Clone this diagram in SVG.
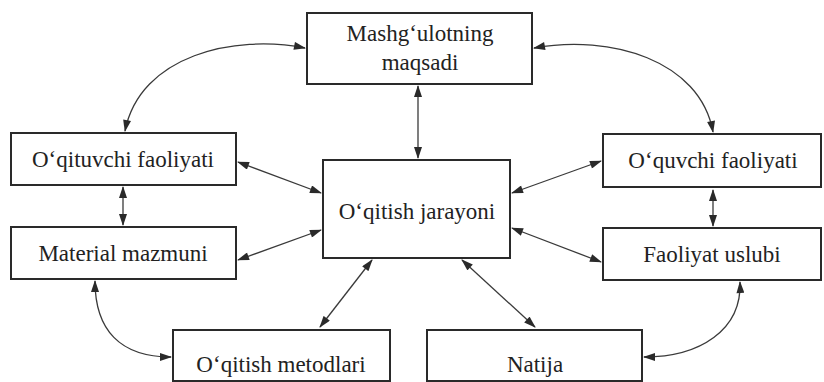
<svg xmlns="http://www.w3.org/2000/svg" width="824" height="382" viewBox="0 0 824 382">
<style>
.box{fill:#fff;stroke:#2a2a2a;stroke-width:2}
.lbl{font-family:"Liberation Serif","Times New Roman",serif;font-size:23px;fill:#222;text-anchor:middle}
.con{fill:none;stroke:#3a3a3a;stroke-width:1.3;marker-start:url(#ah);marker-end:url(#ah)}
</style>
<defs>
<marker id="ah" viewBox="0 0 12 8" refX="11" refY="4" markerWidth="13" markerHeight="8" markerUnits="userSpaceOnUse" orient="auto-start-reverse">
<path d="M0,0 L12,4 L0,8 Z" fill="#2a2a2a"/>
</marker>
</defs>
<rect width="824" height="382" fill="#fff"/>
<g id="connectors">
<path class="con" d="M418,86 L418,158"/>
<path class="con" d="M123,187 L123,225"/>
<path class="con" d="M713,190 L713,226"/>
<path class="con" d="M238,162 L321,193"/>
<path class="con" d="M238,260 L321,230"/>
<path class="con" d="M512,193 L601,161"/>
<path class="con" d="M512,228 L601,262"/>
<path class="con" d="M372,260 L320,327"/>
<path class="con" d="M462,260 L535,327"/>
<path class="con" d="M305,48 C235,34 140,55 125,131"/>
<path class="con" d="M534,48 C610,34 700,60 713,132"/>
<path class="con" d="M95,281 C95,330 120,357 171,357"/>
<path class="con" d="M740,282 C742,330 700,357 644,357"/>
</g>
<g id="n1"><rect class="box" x="307" y="13" width="225" height="71"/><text class="lbl" x="420" y="41">Mashg‘ulotning</text><text class="lbl" x="420" y="70">maqsadi</text></g>
<g id="n2"><rect class="box" x="11" y="133" width="225" height="52"/><text class="lbl" x="123" y="167">O‘qituvchi faoliyati</text></g>
<g id="n3"><rect class="box" x="603" y="134" width="218" height="53"/><text class="lbl" x="713" y="168">O‘quvchi faoliyati</text></g>
<g id="n4"><rect class="box" x="323" y="160" width="187" height="98"/><text class="lbl" x="417" y="219">O‘qitish jarayoni</text></g>
<g id="n5"><rect class="box" x="11" y="227" width="225" height="52"/><text class="lbl" x="123" y="261">Material  mazmuni</text></g>
<g id="n6"><rect class="box" x="603" y="228" width="218" height="52"/><text class="lbl" x="712" y="262">Faoliyat uslubi</text></g>
<g id="n7"><rect class="box" x="173" y="330" width="217" height="51"/><text class="lbl" x="281" y="372">O‘qitish metodlari</text></g>
<g id="n8"><rect class="box" x="427" y="330" width="215" height="51"/><text class="lbl" x="535" y="372">Natija</text></g>
</svg>
